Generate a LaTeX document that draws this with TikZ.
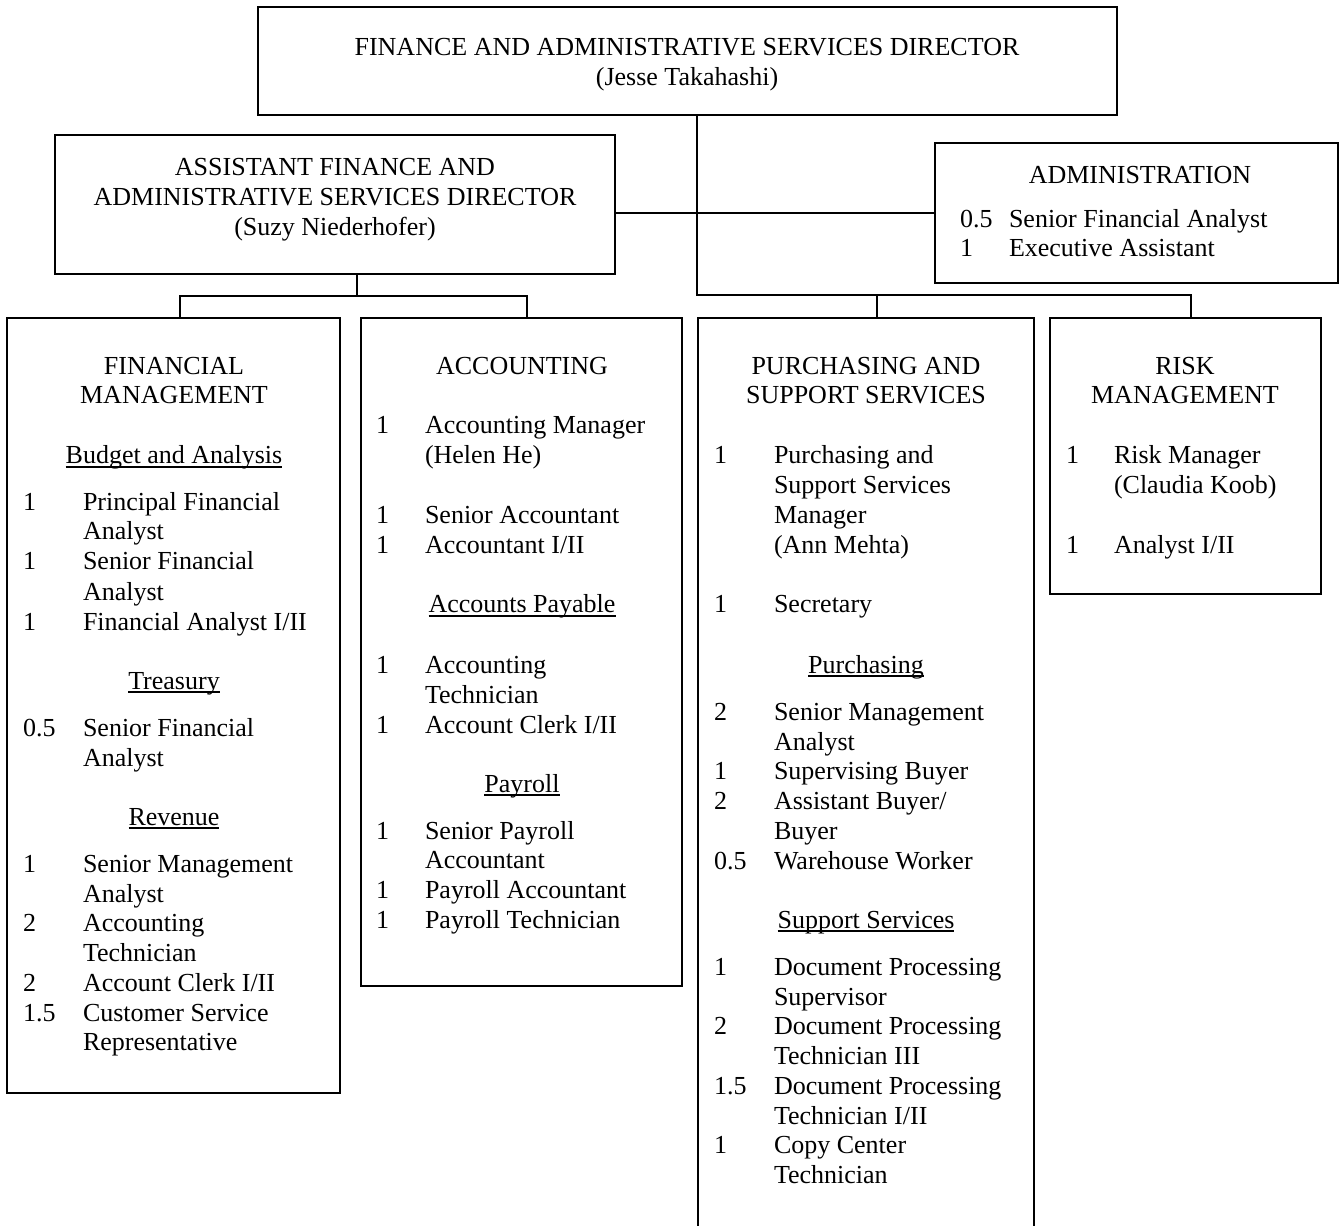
\documentclass[tikz,border=0pt]{standalone}
\usepackage{fontspec}
\setmainfont{Liberation Serif}
\newcommand\putl[4]{\node[txt,anchor=base west] (#1) at ({#2},{#3+9}) {#4};}
\newcommand\putc[4]{\node[txt,anchor=base] (#1) at ({#2},{#3+9}) {#4};}
\newcommand\puth[4]{\node[txt,anchor=base] (#1) at ({#2},{#3+9}) {#4};
  \draw[uline] ([yshift=-2.4pt]#1.base west) -- ([yshift=-2.4pt]#1.base east);}
\newcommand\itm[6]{\node[txt,anchor=base west] (#1n) at ({#2},{#4+9}) {#5};\node[txt,anchor=base west] (#1) at ({#3},{#4+9}) {#6};}
\newcommand\mybox[6]{\node[#6,anchor=north west,minimum width={(#4-#2)*0.75pt},minimum height={(#5-#3)*0.75pt}] (#1) at ({#2},{#3}) {};}
\begin{document}
\begin{tikzpicture}[x=0.75pt,y=-0.75pt,
  txt/.style={inner sep=0pt,outer sep=0pt,font=\fontsize{19.5}{22.5}\selectfont},
  thinbox/.style={draw,line width=0.8pt,inner sep=0pt,outer sep=0pt},
  thickbox/.style={draw,line width=1.5pt,inner sep=0pt,outer sep=0pt},
  conn/.style={line width=1.5pt},
  uline/.style={line width=1.3pt}]
\useasboundingbox (0,0) rectangle (1339,1226);
% boxes
\mybox{top}{258}{7}{1117}{115}{thinbox}
\mybox{asst}{55}{135}{615}{274}{thinbox}
\mybox{admin}{935}{143}{1338}{283}{thinbox}
\mybox{fm}{7}{318}{340}{1093}{thickbox}
\mybox{acc}{361}{318}{682}{986}{thickbox}
\mybox{pur}{698}{318}{1034}{1234}{thickbox}
\mybox{rsk}{1050}{318}{1321}{594}{thickbox}
% connectors
\coordinate (j1) at (697,295);
\coordinate (j2) at (1191,295);
\coordinate (jp) at (877,295);
\coordinate (a1) at (357,296);
\coordinate (fmj) at (180,296);
\coordinate (acj) at (527,296);
\draw[conn] (j1 |- top.south) -- (j1) -- (j2) -- (j2 |- rsk.north);
\draw[conn] (jp) -- (jp |- pur.north);
\draw[conn] (asst.east |- admin.west) -- (admin.west);
\draw[conn] (a1 |- asst.south) -- (a1);
\draw[conn] (fmj |- fm.north) -- (fmj) -- (acj) -- (acj |- acc.north);
% top
\putc{t1}{687}{47}{FINANCE AND ADMINISTRATIVE SERVICES DIRECTOR}
\putc{t2}{687}{77}{(Jesse Takahashi)}
% assistant
\putc{as1}{335}{167}{ASSISTANT FINANCE AND}
\putc{as2}{335}{197}{ADMINISTRATIVE SERVICES DIRECTOR}
\putc{as3}{335}{227}{(Suzy Niederhofer)}
% admin
\putc{ad0}{1140}{175}{ADMINISTRATION}
\itm{ad1}{960}{1009}{219}{0.5}{Senior Financial Analyst}
\itm{ad2}{960}{1009}{248}{1}{Executive Assistant}
% financial management
\putc{fmt1}{174}{366}{FINANCIAL}
\putc{fmt2}{174}{395}{MANAGEMENT}
\puth{fmh1}{174}{455}{Budget and Analysis}
\itm{fm1}{23}{83}{502}{1}{Principal Financial}
\putl{fm1b}{83}{531}{Analyst}
\itm{fm2}{23}{83}{561}{1}{Senior Financial}
\putl{fm2b}{83}{591}{Analyst}
\itm{fm3}{23}{83}{621}{1}{Financial Analyst I/II}
\puth{fmh2}{174}{680}{Treasury}
\itm{fm4}{23}{83}{727}{0.5}{Senior Financial}
\putl{fm4b}{83}{757}{Analyst}
\puth{fmh3}{174}{816}{Revenue}
\itm{fm5}{23}{83}{863}{1}{Senior Management}
\putl{fm5b}{83}{893}{Analyst}
\itm{fm6}{23}{83}{922}{2}{Accounting}
\putl{fm6b}{83}{952}{Technician}
\itm{fm7}{23}{83}{982}{2}{Account Clerk I/II}
\itm{fm8}{23}{83}{1012}{1.5}{Customer Service}
\putl{fm8b}{83}{1041}{Representative}
% accounting
\putc{act}{522}{366}{ACCOUNTING}
\itm{ac1}{376}{425}{425}{1}{Accounting Manager}
\putl{ac1b}{425}{455}{(Helen He)}
\itm{ac2}{376}{425}{515}{1}{Senior Accountant}
\itm{ac3}{376}{425}{545}{1}{Accountant I/II}
\puth{ach1}{522}{604}{Accounts Payable}
\itm{ac4}{376}{425}{664}{1}{Accounting}
\putl{ac4b}{425}{694}{Technician}
\itm{ac5}{376}{425}{724}{1}{Account Clerk I/II}
\puth{ach2}{522}{783}{Payroll}
\itm{ac6}{376}{425}{830}{1}{Senior Payroll}
\putl{ac6b}{425}{859}{Accountant}
\itm{ac7}{376}{425}{889}{1}{Payroll Accountant}
\itm{ac8}{376}{425}{919}{1}{Payroll Technician}
% purchasing
\putc{pt1}{866}{366}{PURCHASING AND}
\putc{pt2}{866}{395}{SUPPORT SERVICES}
\itm{pu1}{714}{774}{455}{1}{Purchasing and}
\putl{pu1b}{774}{485}{Support Services}
\putl{pu1c}{774}{515}{Manager}
\putl{pu1d}{774}{545}{(Ann Mehta)}
\itm{pu2}{714}{774}{604}{1}{Secretary}
\puth{puh1}{866}{664}{Purchasing}
\itm{pu3}{714}{774}{711}{2}{Senior Management}
\putl{pu3b}{774}{741}{Analyst}
\itm{pu4}{714}{774}{770}{1}{Supervising Buyer}
\itm{pu5}{714}{774}{800}{2}{Assistant Buyer/}
\putl{pu5b}{774}{830}{Buyer}
\itm{pu6}{714}{774}{860}{0.5}{Warehouse Worker}
\puth{puh2}{866}{919}{Support Services}
\itm{pu7}{714}{774}{966}{1}{Document Processing}
\putl{pu7b}{774}{996}{Supervisor}
\itm{pu8}{714}{774}{1025}{2}{Document Processing}
\putl{pu8b}{774}{1055}{Technician III}
\itm{pu9}{714}{774}{1085}{1.5}{Document Processing}
\putl{pu9b}{774}{1115}{Technician I/II}
\itm{pu10}{714}{774}{1144}{1}{Copy Center}
\putl{pu10b}{774}{1174}{Technician}
% risk
\putc{rt1}{1185}{366}{RISK}
\putc{rt2}{1185}{395}{MANAGEMENT}
\itm{rk1}{1066}{1114}{455}{1}{Risk Manager}
\putl{rk1b}{1114}{485}{(Claudia Koob)}
\itm{rk2}{1066}{1114}{545}{1}{Analyst I/II}
\end{tikzpicture}
\end{document}
